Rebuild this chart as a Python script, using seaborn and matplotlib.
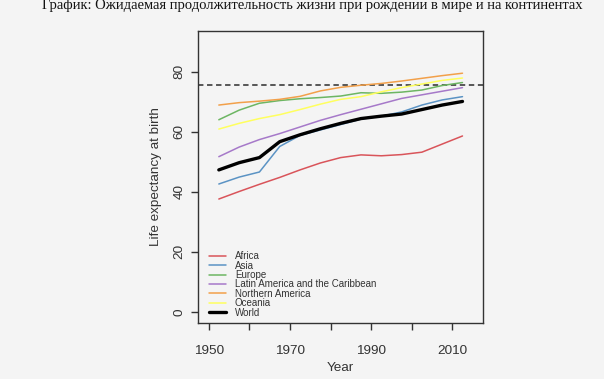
import numpy as np
import pandas as pd
import matplotlib
matplotlib.use("Agg")
import matplotlib.pyplot as plt
import seaborn as sns

# ---- data ----
years = [1952.5, 1957.5, 1962.5, 1967.5, 1972.5, 1977.5, 1982.5,
         1987.5, 1992.5, 1997.5, 2002.5, 2007.5, 2012.5]
africa = [37.6, 40.1, 42.5, 44.8, 47.3, 49.6, 51.4, 52.3, 52.0, 52.4, 53.2, 55.9, 58.6]
asia = [42.6, 44.9, 46.6, 55.1, 58.8, 60.6, 62.4, 64.2, 65.2, 66.6, 68.9, 70.6, 71.7]
europe = [64.0, 67.2, 69.5, 70.4, 71.0, 71.4, 71.9, 73.0, 72.8, 73.2, 73.9, 75.4, 76.4]
latin_america = [51.7, 54.9, 57.4, 59.4, 61.6, 63.8, 65.7, 67.5, 69.3, 71.1, 72.3, 73.5, 74.7]
northern_america = [68.9, 69.7, 70.2, 70.8, 71.8, 73.6, 74.8, 75.5, 76.1, 76.9, 77.8, 78.7, 79.5]
oceania = [60.9, 62.8, 64.4, 65.7, 67.4, 69.2, 70.8, 71.7, 73.3, 74.7, 75.9, 77.1, 77.9]
world = [47.3, 49.7, 51.4, 56.7, 59.0, 61.0, 62.8, 64.4, 65.2, 65.9, 67.4, 68.9, 70.1]

series_names = ["Africa", "Asia", "Europe", "Latin America and the Caribbean",
                "Northern America", "Oceania", "World"]
series_values = [africa, asia, europe, latin_america, northern_america, oceania, world]
series_colors = ["#d9545a", "#5b93c4", "#6db663", "#a679c9", "#f2a04a", "#ffff5e", "#000000"]
series_widths = [1.1, 1.1, 1.1, 1.1, 1.1, 1.1, 2.4]

reference_level = 75.5
x_ticks = [1950, 1960, 1970, 1980, 1990, 2000, 2010]
x_tick_labels = ["1950", "", "1970", "", "1990", "", "2010"]
y_ticks = [0, 20, 40, 60, 80]

title = "График: Ожидаемая продолжительность жизни при рождении в мире и на континентах"
x_label = "Year"
y_label = "Life expectancy at birth"

# ---- long-form table ----
df = pd.DataFrame({
    "year": np.tile(years, len(series_names)),
    "life": np.concatenate(series_values),
    "region": np.repeat(series_names, len(years)),
})

sns.set_style("ticks")
bg = "#f4f4f4"
plt.rcParams["font.family"] = ["Liberation Sans", "DejaVu Sans"]

fig = plt.figure(figsize=(6.04, 3.79), dpi=100, facecolor=bg)
ax = fig.add_axes([0.328, 0.1485, 0.472, 0.770])
ax.set_facecolor(bg)

for name, col, lw in zip(series_names, series_colors, series_widths):
    sub = df[df["region"] == name]
    sns.lineplot(data=sub, x="year", y="life", color=col, linewidth=lw,
                 ax=ax, label=name, legend=False)

ax.axhline(reference_level, color="#4a4a4a", linestyle=(0, (3, 2)), linewidth=1.3, zorder=0)

ax.set_xlim(1947.4, 2017.6)
ax.set_ylim(-3.6, 93.6)
ax.set_xticks(x_ticks)
ax.set_xticklabels(x_tick_labels, fontsize=9.7, color="#333333")
ax.set_yticks(y_ticks)
ax.set_yticklabels([str(v) for v in y_ticks], fontsize=9.7, color="#333333",
                   rotation=90, va="center")
ax.tick_params(axis="both", direction="out", length=5.2, width=1, color="#333333")
ax.tick_params(axis="x", pad=10.5)
ax.tick_params(axis="y", pad=4)
ax.set_xlabel(x_label, fontsize=9.7, color="#333333", labelpad=4)
ax.set_ylabel(y_label, fontsize=9.7, color="#333333", labelpad=8)
for s in ax.spines.values():
    s.set_visible(True)
    s.set_color("#333333")
    s.set_linewidth(1.0)

lines = ax.get_lines()[:len(series_names)]
leg = ax.legend(lines, series_names, loc="lower left", bbox_to_anchor=(0.013, -0.006),
                frameon=False, fontsize=7, handlelength=1.75, handletextpad=0.95,
                labelspacing=-0.06, borderaxespad=0.3)
for t in leg.get_texts():
    t.set_color("#333333")

fig.text(0.517, 0.976, title, ha="center", va="baseline",
         fontsize=10.5, family=["Liberation Serif", "DejaVu Serif"], color="#111111")

fig.savefig("out.png", dpi=100, facecolor=bg)
